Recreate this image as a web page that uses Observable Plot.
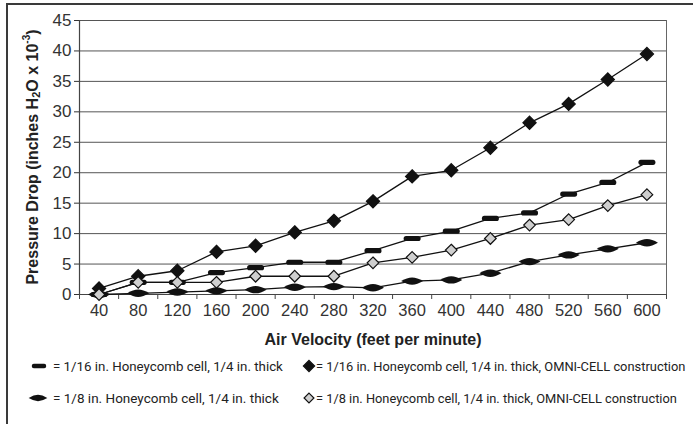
<!DOCTYPE html>
<html>
<head>
<meta charset="utf-8">
<script src="https://cdn.jsdelivr.net/npm/d3@7"></script>
<script src="https://cdn.jsdelivr.net/npm/@observablehq/plot@0.6"></script>
<style>
  body { margin: 0; background: #fff; }
  #wrap { position: relative; width: 693px; height: 424px; overflow: hidden; background: #fff; font-family: "Liberation Sans", Arial, sans-serif; }
  #frame { position: absolute; left: 6px; top: 3px; width: 720px; height: 460px; border-left: 2px solid #3a3a3a; border-top: 2px solid #3a3a3a; box-sizing: border-box; }
  #chart { position: absolute; left: 0; top: 0; }
  #legend { position: absolute; left: 0; top: 350px; }
</style>
</head>
<body>
<div id="wrap">
  <div id="frame"></div>
  <div id="chart"></div>
  <div id="legend"></div>
</div>
<script>
// ---- data ----
const velocity = [40, 80, 120, 160, 200, 240, 280, 320, 360, 400, 440, 480, 520, 560, 600];
const cell16 = [0, 2, 2, 3.6, 4.4, 5.3, 5.3, 7.2, 9.2, 10.4, 12.5, 13.4, 16.5, 18.4, 21.7];
const cell8 = [0, 0.2, 0.4, 0.6, 0.8, 1.2, 1.3, 1.1, 2.2, 2.4, 3.5, 5.4, 6.5, 7.5, 8.5];
const omni16 = [1, 3, 3.9, 7, 8, 10.2, 12.1, 15.3, 19.4, 20.4, 24.1, 28.2, 31.3, 35.3, 39.5];
const omni8 = [0, 2, 2, 2, 3, 3, 3, 5.2, 6.1, 7.3, 9.2, 11.4, 12.3, 14.6, 16.4];
const yTicks = [0, 5, 10, 15, 20, 25, 30, 35, 40, 45];
const legendLabels = [
  "= 1/16 in. Honeycomb cell, 1/4 in. thick",
  "= 1/16 in. Honeycomb cell, 1/4 in. thick, OMNI-CELL construction",
  "= 1/8 in. Honeycomb cell, 1/4 in. thick",
  "= 1/8 in. Honeycomb cell, 1/4 in. thick, OMNI-CELL construction"
];

// ---- marker shapes ----
const dashSym = {draw(c) { // rounded bar
  const w = 8.5, h = 2.6, r = 2.4;
  c.moveTo(-w + r, -h); c.lineTo(w - r, -h); c.quadraticCurveTo(w, -h, w, 0);
  c.quadraticCurveTo(w, h, w - r, h); c.lineTo(-w + r, h); c.quadraticCurveTo(-w, h, -w, 0);
  c.quadraticCurveTo(-w, -h, -w + r, -h); c.closePath();
}};
const lensSym = {draw(c) { // pointed lens
  const w = 11, h = 3.7;
  c.moveTo(-w, 0); c.quadraticCurveTo(-5, -h, 0, -h); c.quadraticCurveTo(5, -h, w, 0);
  c.quadraticCurveTo(5, h, 0, h); c.quadraticCurveTo(-5, h, -w, 0); c.closePath();
}};
const diamondBig = {draw(c) {
  const s = 6.6; c.moveTo(0, -s); c.lineTo(s, 0); c.lineTo(0, s); c.lineTo(-s, 0); c.closePath();
}};
const diamondSmall = {draw(c) {
  const s = 5.8; c.moveTo(0, -s); c.lineTo(s, 0); c.lineTo(0, s); c.lineTo(-s, 0); c.closePath();
}};

const table = (vals) => velocity.map((v, i) => ({v, p: vals[i]}));
const series = [
  {data: table(cell16), sym: dashSym, fill: "#111", stroke: "none"},
  {data: table(cell8), sym: lensSym, fill: "#111", stroke: "none"},
  {data: table(omni16), sym: diamondBig, fill: "#111", stroke: "#111"},
  {data: table(omni8), sym: diamondSmall, fill: "#cfcfcf", stroke: "#111"}
];

const bounds = d3.range(0, velocity.length + 1).map(i => velocity[0] - 20 + 40 * i);

const marks = [
  Plot.gridY(yTicks.slice(1), {stroke: "#555", strokeOpacity: 1, strokeWidth: 1}),
  Plot.ruleX([bounds[bounds.length - 1]], {stroke: "#666", strokeWidth: 1}),
  Plot.ruleX([bounds[0]], {stroke: "#444", strokeWidth: 1.2}),
  Plot.ruleY([0], {stroke: "#444", strokeWidth: 1.2}),
  Plot.axisY(yTicks, {tickSize: 5, tickPadding: 3, fontSize: 17, color: "#333", label: null}),
  Plot.axisX(velocity, {tickSize: 0, tickPadding: 10, fontSize: 16.5, color: "#333", label: null}),
  Plot.axisX(bounds, {tickSize: 5, tickFormat: () => "", color: "#444", label: null}),
  Plot.text(["Air Velocity (feet per minute)"], {frameAnchor: "bottom", dy: 50, fontSize: 16, fontWeight: "bold", fill: "#222"})
];
for (const s of series) {
  marks.push(Plot.line(s.data, {x: "v", y: "p", stroke: "#111", strokeWidth: 1.3}));
  marks.push(Plot.dot(s.data, {x: "v", y: "p", symbol: s.sym, r: 6, fill: s.fill, stroke: s.stroke, strokeWidth: 1.2}));
}

const svg = Plot.plot({
  width: 693, height: 350,
  marginLeft: 79, marginRight: 27, marginTop: 20, marginBottom: 56,
  style: {fontFamily: "'Liberation Sans', Arial, sans-serif", background: "transparent"},
  x: {type: "linear", domain: [bounds[0], bounds[bounds.length - 1]], axis: null},
  y: {domain: [0, 45], axis: null},
  marks
});
document.getElementById("chart").appendChild(svg);

// y-axis title with sub/superscript
const yl = d3.select(svg).append("text")
  .attr("transform", "translate(32,157) rotate(-90)")
  .attr("text-anchor", "middle").attr("dominant-baseline", "central")
  .attr("font-family", "'Liberation Sans', Arial, sans-serif")
  .attr("font-weight", "bold").attr("font-size", 16).attr("fill", "#222");
yl.append("tspan").text("Pressure Drop (inches H");
yl.append("tspan").attr("font-size", 11).attr("dy", 4).text("2");
yl.append("tspan").attr("dy", -4).text("O x 10");
yl.append("tspan").attr("font-size", 10).attr("dy", -6).text("-3");
yl.append("tspan").attr("dy", 6).text(")");

// legend below the chart (its own small svg)
const lsvg = d3.select("#legend").append("svg").attr("width", 693).attr("height", 74);
const symPath = (t) => d3.symbol().type(t)();
const legItems = [
  {sym: dashSym, fill: "#111", stroke: "none", sx: 39, tx: 53, y: 16, w: 230, label: legendLabels[0]},
  {sym: diamondBig, fill: "#111", stroke: "#111", sx: 309, tx: 316, y: 16, w: 370, label: legendLabels[1]},
  {sym: lensSym, fill: "#111", stroke: "none", sx: 38, tx: 53, y: 48, w: 226, label: legendLabels[2]},
  {sym: diamondSmall, fill: "#cfcfcf", stroke: "#111", sx: 309, tx: 316, y: 48, w: 361, label: legendLabels[3]}
];
const texts = [];
for (const it of legItems) {
  lsvg.append("path").attr("transform", `translate(${it.sx},${it.y}) scale(0.85)`).attr("d", symPath(it.sym))
    .attr("fill", it.fill).attr("stroke", it.stroke).attr("stroke-width", 1.4);
  const t = lsvg.append("text").attr("x", it.tx).attr("y", it.y).attr("dominant-baseline", "central")
    .attr("font-family", "Roboto, 'Open Sans', sans-serif").attr("font-size", 14).attr("fill", "#222")
    .text(it.label);
  texts.push([t, it.w]);
}
// fit each legend text to the width it takes in the reference
for (const [t, w] of texts) {
  const natural = t.node().getComputedTextLength();
  if (natural > 0) t.attr("font-size", Math.min(14.5, 14 * w / natural).toFixed(2));
}
</script>
</body>
</html>
